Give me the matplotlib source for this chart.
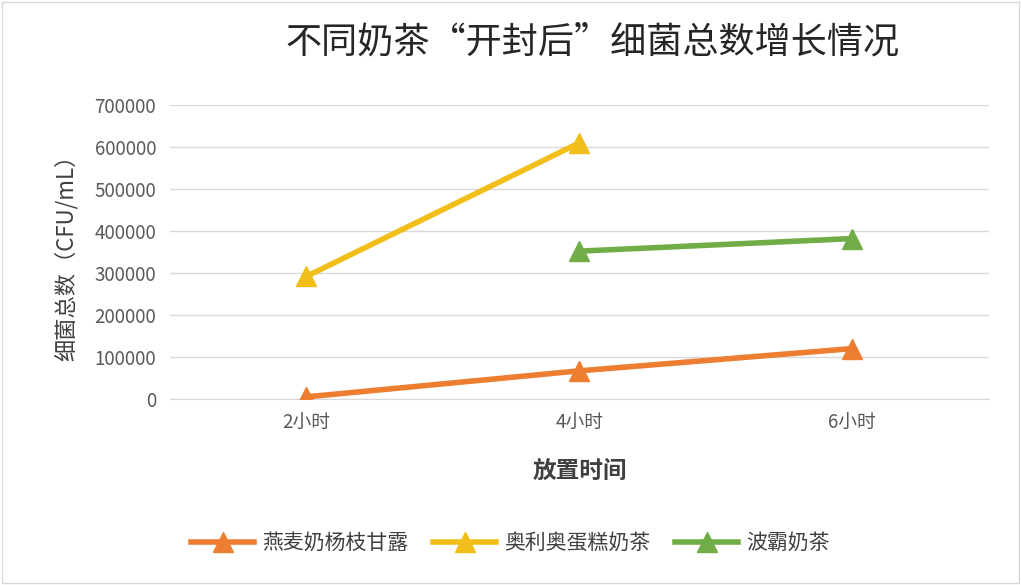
import matplotlib
matplotlib.use("Agg")
import matplotlib.pyplot as plt
import numpy as np

plt.rcParams['font.family'] = ['Noto Sans CJK SC', 'DejaVu Sans']

categories = ["2小时", "4小时", "6小时"]
s1_name, s1 = "燕麦奶杨枝甘露", [5000, 67000, 120000]
s2_name, s2 = "奥利奥蛋糕奶茶", [292000, 610000, np.nan]
s3_name, s3 = "波霸奶茶", [np.nan, 352000, 382000]
yticks = [0, 100000, 200000, 300000, 400000, 500000, 600000, 700000]

fig = plt.figure(figsize=(10.21, 5.85), dpi=100)
ax = fig.add_axes([0.1665, 0.318, 0.802, 0.5025])
x = np.arange(len(categories))
for name, vals, c in [(s1_name, s1, "#ED7D31"), (s2_name, s2, "#F2BE1A"), (s3_name, s3, "#70AD47")]:
    ax.plot(x, vals, color=c, lw=4, marker="^", ms=15, label=name, zorder=3)
ax.set_xlim(-0.5, 2.5)
ax.set_ylim(0, 700000)
ax.set_yticks(yticks)
ax.set_yticklabels([str(v) for v in yticks])
ax.set_xticks(x)
ax.set_xticklabels(categories)
ax.grid(axis="y", color="#D9D9D9", lw=1)
ax.tick_params(length=0, labelsize=13.5, colors="#595959", pad=10)
for s in ["top", "right", "left"]:
    ax.spines[s].set_visible(False)
ax.spines["bottom"].set_color("#D9D9D9")
ax.set_xlabel("放置时间", fontsize=17, color="#404040", fontweight="bold", labelpad=18)
ax.set_ylabel("细菌总数（CFU/mL）", fontsize=16, color="#404040", labelpad=12)
fig.text(0.58, 0.928, "不同奶茶“开封后”细菌总数增长情况", ha="center", va="center", fontsize=26, color="#262626")
fig.legend(loc="center", bbox_to_anchor=(0.5, 0.072), ncol=3, frameon=False, fontsize=15,
           labelcolor="#404040", handlelength=3, columnspacing=1.2, handletextpad=0.4)
fig.patches.append(plt.Rectangle((0.002, 0.004), 0.996, 0.992, transform=fig.transFigure,
                                 fill=False, edgecolor="#D9D9D9", lw=1))
fig.savefig("out.png", dpi=100, facecolor="white")
